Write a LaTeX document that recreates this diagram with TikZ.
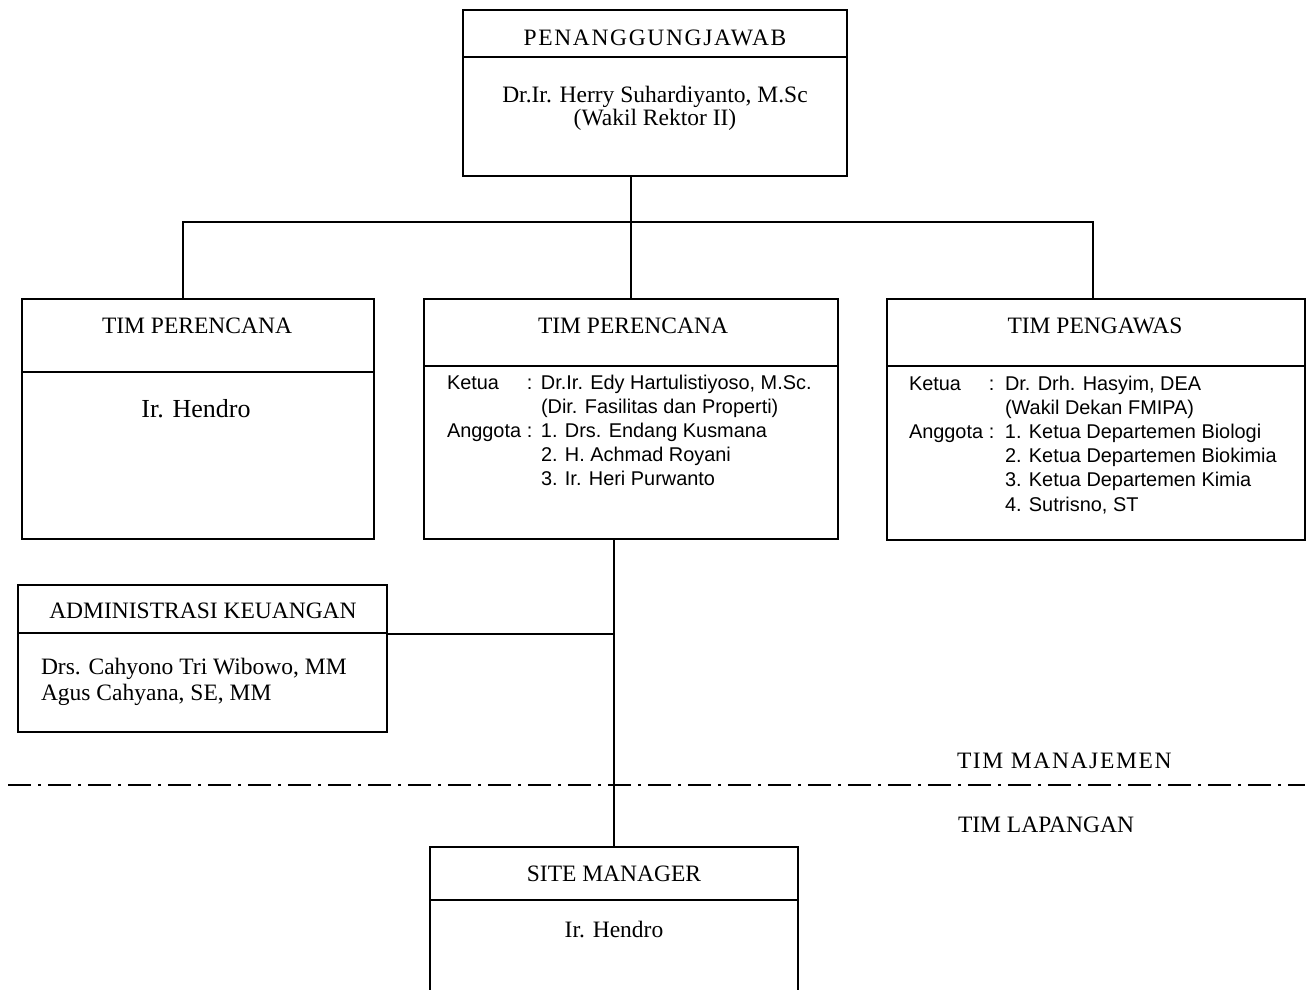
\documentclass[tikz,border=0pt]{standalone}
\usepackage{fontspec}
\setmainfont{Liberation Serif}
\newfontfamily\arialf{Liberation Sans}
\newfontfamily\spacedf[LetterSpace=7]{Liberation Serif}
\begin{document}
\begin{tikzpicture}[x=1pt,y=-1pt,line width=2pt,
  box/.style={draw=black,line width=2pt,rectangle,inner sep=0pt,outer sep=0pt,anchor=north west},
  ttl/.style={inner sep=0pt,anchor=base,font=\fontsize{23.5}{23.5}\selectfont},
  lft/.style={inner sep=0pt,anchor=base west,font=\fontsize{23.5}{26}\selectfont},
  sans/.style={inner sep=0pt,anchor=base west,font=\arialf\fontsize{19.9}{24.2}\selectfont},
  divider/.style={line width=2pt},
  conn/.style={line width=2pt},
  dashdot/.style={line width=2pt,dash pattern=on 23pt off 7pt on 3pt off 7pt}]
\useasboundingbox (0,0) rectangle (1311,989);
\clip (0,0) rectangle (1311,989);
\fill[white] (0,0) rectangle (1311,989);

% boxes
\node[box,minimum width=384pt,minimum height=166pt] (pj)  at (463,10)  {};
\node[box,minimum width=352pt,minimum height=240pt] (tpl) at (22,299)  {};
\node[box,minimum width=414pt,minimum height=240pt] (tpm) at (424,299) {};
\node[box,minimum width=418pt,minimum height=241pt] (tpw) at (887,299) {};
\node[box,minimum width=369pt,minimum height=147pt] (adm) at (18,585)  {};
\node[box,minimum width=368pt,minimum height=200pt] (sm)  at (430,847) {};

% dividers
\draw[divider] (pj.west |- 0,57)   -- (pj.east |- 0,57);
\draw[divider] (tpl.west |- 0,372) -- (tpl.east |- 0,372);
\draw[divider] (tpm.west |- 0,366) -- (tpm.east |- 0,366);
\draw[divider] (tpw.west |- 0,366) -- (tpw.east |- 0,366);
\draw[divider] (adm.west |- 0,633) -- (adm.east |- 0,633);
\draw[divider] (sm.west |- 0,900)  -- (sm.east |- 0,900);

% connectors
\coordinate (jl) at (183,222);
\coordinate (jr) at (1093,222);
\draw[conn] (tpm.north |- pj.south) -- (tpm.north);
\draw[conn] (jl |- tpl.north) -- (jl) -- (jr) -- (jr |- tpw.north);
\draw[conn] (sm.north |- tpm.south) -- (sm.north);
\draw[conn] (adm.east |- 0,634) -- (sm.north |- 0,634);

% separator
\coordinate (dl) at (8,785);
\coordinate (dr) at (1305,785);
\draw[dashdot] (dl) -- (dr);

% texts
\node[ttl,font=\spacedf\fontsize{23.5}{23.5}\selectfont] (pjt) at (655,45) {PENANGGUNGJAWAB};
\node[ttl] (pjn) at (655,102) {\begin{tabular}[t]{@{}c@{}}Dr.Ir. Herry Suhardiyanto, M.Sc\\(Wakil Rektor II)\end{tabular}};

\node[ttl] (tplt) at (197,333) {TIM PERENCANA};
\node[ttl,font=\fontsize{26}{26}\selectfont] (tpln) at (196,417) {Ir. Hendro};

\node[ttl] (tpmt) at (633,333) {TIM PERENCANA};
\node[sans] (tpmn) at (446,389) {\begin{tabular}[t]{@{}l@{}}
\makebox[80pt][l]{Ketua}\makebox[14pt][l]{:}Dr.Ir. Edy Hartulistiyoso, M.Sc.\\
\makebox[80pt][l]{}\makebox[14pt][l]{}(Dir. Fasilitas dan Properti)\\
\makebox[80pt][l]{Anggota}\makebox[14pt][l]{:}1. Drs. Endang Kusmana\\
\makebox[80pt][l]{}\makebox[14pt][l]{}2. H. Achmad Royani\\
\makebox[80pt][l]{}\makebox[14pt][l]{}3. Ir. Heri Purwanto
\end{tabular}};

\node[ttl] (tpwt) at (1095,333) {TIM PENGAWAS};
\node[sans] (tpwn) at (908,390) {\begin{tabular}[t]{@{}l@{}}
\makebox[80pt][l]{Ketua}\makebox[16pt][l]{:}Dr. Drh. Hasyim, DEA\\
\makebox[80pt][l]{}\makebox[16pt][l]{}(Wakil Dekan FMIPA)\\
\makebox[80pt][l]{Anggota}\makebox[16pt][l]{:}1. Ketua Departemen Biologi\\
\makebox[80pt][l]{}\makebox[16pt][l]{}2. Ketua Departemen Biokimia\\
\makebox[80pt][l]{}\makebox[16pt][l]{}3. Ketua Departemen Kimia\\
\makebox[80pt][l]{}\makebox[16pt][l]{}4. Sutrisno, ST
\end{tabular}};

\node[ttl] (admt) at (203,618) {ADMINISTRASI KEUANGAN};
\node[lft] (admn) at (40,674) {\begin{tabular}[t]{@{}l@{}}Drs. Cahyono Tri Wibowo, MM\\Agus Cahyana, SE, MM\end{tabular}};

\node[lft,font=\spacedf\fontsize{23.5}{26}\selectfont] (tman) at (956,768) {TIM MANAJEMEN};
\node[lft] (tlap) at (957,832) {TIM LAPANGAN};

\node[ttl] (smt) at (614,881) {SITE MANAGER};
\node[ttl] (smn) at (614,937) {Ir. Hendro};
\end{tikzpicture}
\end{document}
